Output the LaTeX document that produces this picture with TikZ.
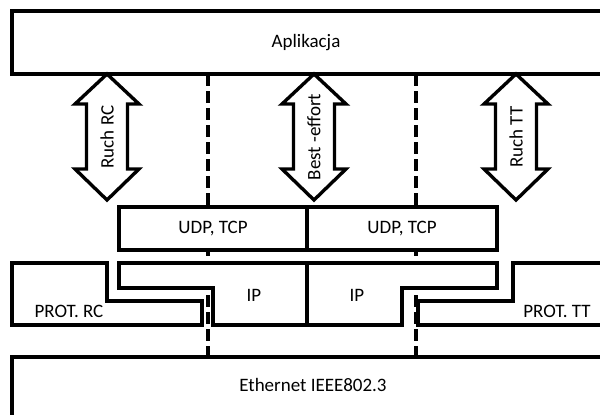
\documentclass[tikz,border=0pt]{standalone}
\usepackage{fontspec}
\setmainfont{Carlito}
\begin{document}
\begin{tikzpicture}[x=0.025cm, y=-0.025cm, line width=2.4pt, line join=miter,
  font=\fontsize{13.5}{16}\selectfont,
  layer/.style={draw, fill=white},
  border/.style={dash pattern=on 8.5pt off 3.6pt}]
\clip (0,0) rectangle (600,415);
% boundaries between the traffic classes
\draw[border] (208,74) -- (208,357);
\draw[border] (416,74) -- (416,357);
% application layer
\draw[layer] (12,11) rectangle (630,74);
\node (app) at (306,43) {Aplikacja};
% traffic arrows
\foreach \x/\lab/\name in {107/Ruch RC/rc, 314/Best -effort/be, 516/Ruch TT/tt} {
  \draw[layer] (\x,74) -- (\x+32,104) -- (\x+20.5,104) -- (\x+20.5,169) -- (\x+32,169)
    -- (\x,200) -- (\x-32,169) -- (\x-20.5,169) -- (\x-20.5,104) -- (\x-32,104) -- cycle;
  \node[rotate=90] (\name) at (\x,137) {\lab};
}
% transport layer
\draw[layer] (119,207) rectangle (307,250);
\draw[layer] (307,207) rectangle (497,250);
\node (udpa) at (213,229) {UDP, TCP};
\node (udpb) at (402,229) {UDP, TCP};
% network layer
\draw[layer] (119,263) -- (497,263) -- (497,288) -- (402,288) -- (402,325)
  -- (213,325) -- (213,288) -- (119,288) -- cycle;
\draw (307,263) -- (307,325);
\node (ipa) at (254,295) {IP};
\node (ipb) at (357,295) {IP};
% real-time protocols
\draw[layer] (12,263) -- (107,263) -- (107,301) -- (202,301) -- (202,325) -- (12,325) -- cycle;
\draw[layer] (513,263) -- (630,263) -- (630,325) -- (418,325) -- (418,301) -- (513,301) -- cycle;
\node (rc) at (69,311) {PROT. RC};
\node (tt) at (557,311) {PROT. TT};
% link layer
\draw[layer] (12,357) rectangle (630,440);
\node (eth) at (313,385) {Ethernet IEEE802.3};
\end{tikzpicture}
\end{document}
